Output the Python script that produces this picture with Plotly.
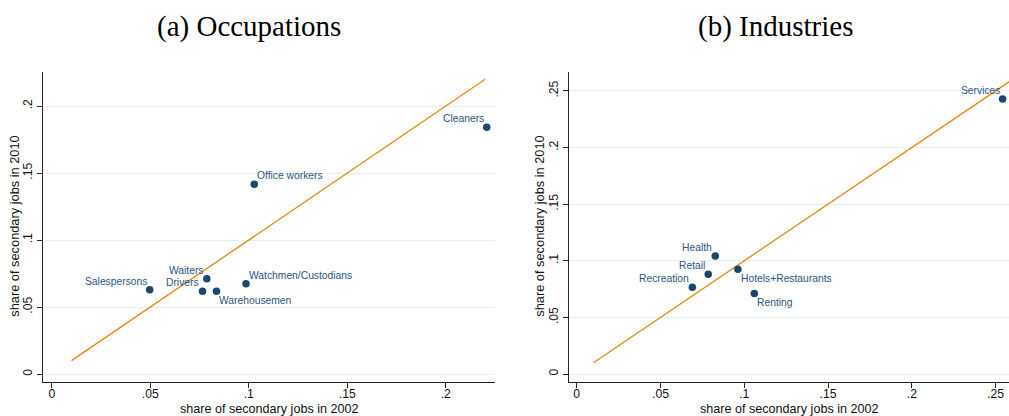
import plotly.graph_objects as go

# ---- data -------------------------------------------------------------
occ_names = ["Cleaners", "Office workers", "Salespersons", "Waiters",
             "Drivers", "Warehousemen", "Watchmen/Custodians"]
occ_2002 = [0.2208, 0.1028, 0.0497, 0.0787, 0.0765, 0.0836, 0.0986]
occ_2010 = [0.1841, 0.1416, 0.0629, 0.0711, 0.0617, 0.0617, 0.0674]
occ_clock = [11, 1, 11, 11, 11, 5, 1]   # marker label clock positions

ind_names = ["Services", "Health", "Retail", "Recreation",
             "Hotels+Restaurants", "Renting"]
ind_2002 = [0.2542, 0.0827, 0.0785, 0.0690, 0.0962, 0.1060]
ind_2010 = [0.2429, 0.1042, 0.0880, 0.0766, 0.0925, 0.0710]
ind_clock = [11, 11, 11, 11, 5, 5]

diag_occ = [0.01, 0.22]   # 45-degree reference line
diag_ind = [0.01, 0.26]

occ_xticks = [0, 0.05, 0.10, 0.15, 0.20]
occ_xtext = ["0", ".05", ".1", ".15", ".2"]
occ_yticks = [0, 0.05, 0.10, 0.15, 0.20]
occ_ytext = ["0", ".05", ".1", ".15", ".2"]
ind_xticks = [0, 0.05, 0.10, 0.15, 0.20, 0.25]
ind_xtext = ["0", ".05", ".1", ".15", ".2", ".25"]
ind_yticks = [0, 0.05, 0.10, 0.15, 0.20, 0.25]
ind_ytext = ["0", ".05", ".1", ".15", ".2", ".25"]

titles = ["(a) Occupations", "(b) Industries"]
xtitle = "share of secondary jobs in 2002"
ytitle = "share of secondary jobs in 2010"

# ---- style ------------------------------------------------------------
W, H = 1009, 416
NAVY = "#1A476F"
ORANGE = "#E8850C"
GRID = "#E7EFEF"
AXIS = "#222222"
SANS = "Liberation Sans, Arial, sans-serif"
SERIF = "Liberation Serif, Times New Roman, serif"

# plot areas in pixels (left, right, top, bottom)
areas = [(43.3, 495.0, 71.7, 381.7), (569.0, 1009.0, 71.7, 381.7)]


def px_domain(a):
    l, r, t, b = a
    return [l / W, r / W], [(H - b) / H, (H - t) / H]


fig = go.Figure()

panels = [
    dict(names=occ_names, x=occ_2002, y=occ_2010, clock=occ_clock, diag=diag_occ,
         xr=[-0.0043, 0.225], yr=[-0.0057, 0.2256],
         xt=(occ_xticks, occ_xtext), yt=(occ_yticks, occ_ytext)),
    dict(names=ind_names, x=ind_2002, y=ind_2010, clock=ind_clock, diag=diag_ind,
         xr=[-0.0046, 0.258], yr=[-0.0068, 0.267],
         xt=(ind_xticks, ind_xtext), yt=(ind_yticks, ind_ytext)),
]

annotations = []
for i, p in enumerate(panels):
    sfx = "" if i == 0 else str(i + 1)
    xa, ya = "x" + sfx, "y" + sfx
    fig.add_trace(go.Scatter(x=p["diag"], y=p["diag"], mode="lines",
                             line=dict(color=ORANGE, width=1.3),
                             xaxis=xa, yaxis=ya, showlegend=False,
                             hoverinfo="skip"))
    fig.add_trace(go.Scatter(x=p["x"], y=p["y"], mode="markers",
                             marker=dict(color=NAVY, size=7.5),
                             text=p["names"], xaxis=xa, yaxis=ya,
                             showlegend=False))
    for name, xv, yv, c in zip(p["names"], p["x"], p["y"], p["clock"]):
        left = c in (7, 8, 9, 10, 11)
        up = c in (10, 11, 12, 1, 2)
        annotations.append(dict(
            x=xv, y=yv, xref=xa, yref=ya, text=name, showarrow=False,
            xanchor="right" if left else "left", yanchor="middle",
            xshift=-3 if left else 3, yshift=8.5 if up else -9,
            borderpad=0, borderwidth=0,
            font=dict(family=SANS, size=10.3, color="#2C5580")))

    xd, yd = px_domain(areas[i])
    common = dict(showline=True, linecolor=AXIS, linewidth=1.3,
                  ticks="outside", ticklen=5, tickwidth=1.2, tickcolor=AXIS,
                  zeroline=False, tickfont=dict(family=SANS, size=12.2, color="#111"))
    fig.layout["xaxis" + sfx] = dict(domain=xd, range=p["xr"], anchor=ya,
                                     tickvals=p["xt"][0], ticktext=p["xt"][1],
                                     ticklabelstandoff=-4,
                                     showgrid=False, **common)
    fig.layout["yaxis" + sfx] = dict(domain=yd, range=p["yr"], anchor=xa,
                                     tickvals=p["yt"][0], ticktext=p["yt"][1],
                                     tickangle=-90, showgrid=True,
                                     gridcolor=GRID, gridwidth=1.3, **common)

    l, r, t, b = areas[i]
    # axis titles
    annotations.append(dict(x=(l + r) / 2 / W, y=0, xref="paper",
                            yref="paper", text=xtitle, showarrow=False,
                            xanchor="center", yanchor="bottom",
                            borderpad=0, borderwidth=0,
                            font=dict(family=SANS, size=12.6, color="#111")))
    annotations.append(dict(x=(15 if i == 0 else 540) / W, y=(H - (t + b) / 2) / H,
                            xref="paper", yref="paper", text=ytitle,
                            showarrow=False, textangle=-90,
                            xanchor="center", yanchor="middle",
                            font=dict(family=SANS, size=12.8, color="#111")))
    # panel title
    annotations.append(dict(x=(249 if i == 0 else 775.5) / W, y=(H - 26) / H,
                            xref="paper", yref="paper", text=titles[i],
                            showarrow=False, xanchor="center", yanchor="middle",
                            font=dict(family=SERIF, size=29, color="#000")))

fig.update_layout(width=W, height=H, margin=dict(l=0, r=0, t=0, b=0),
                  paper_bgcolor="white", plot_bgcolor="white",
                  annotations=annotations, showlegend=False)

fig.write_html("out.html")
